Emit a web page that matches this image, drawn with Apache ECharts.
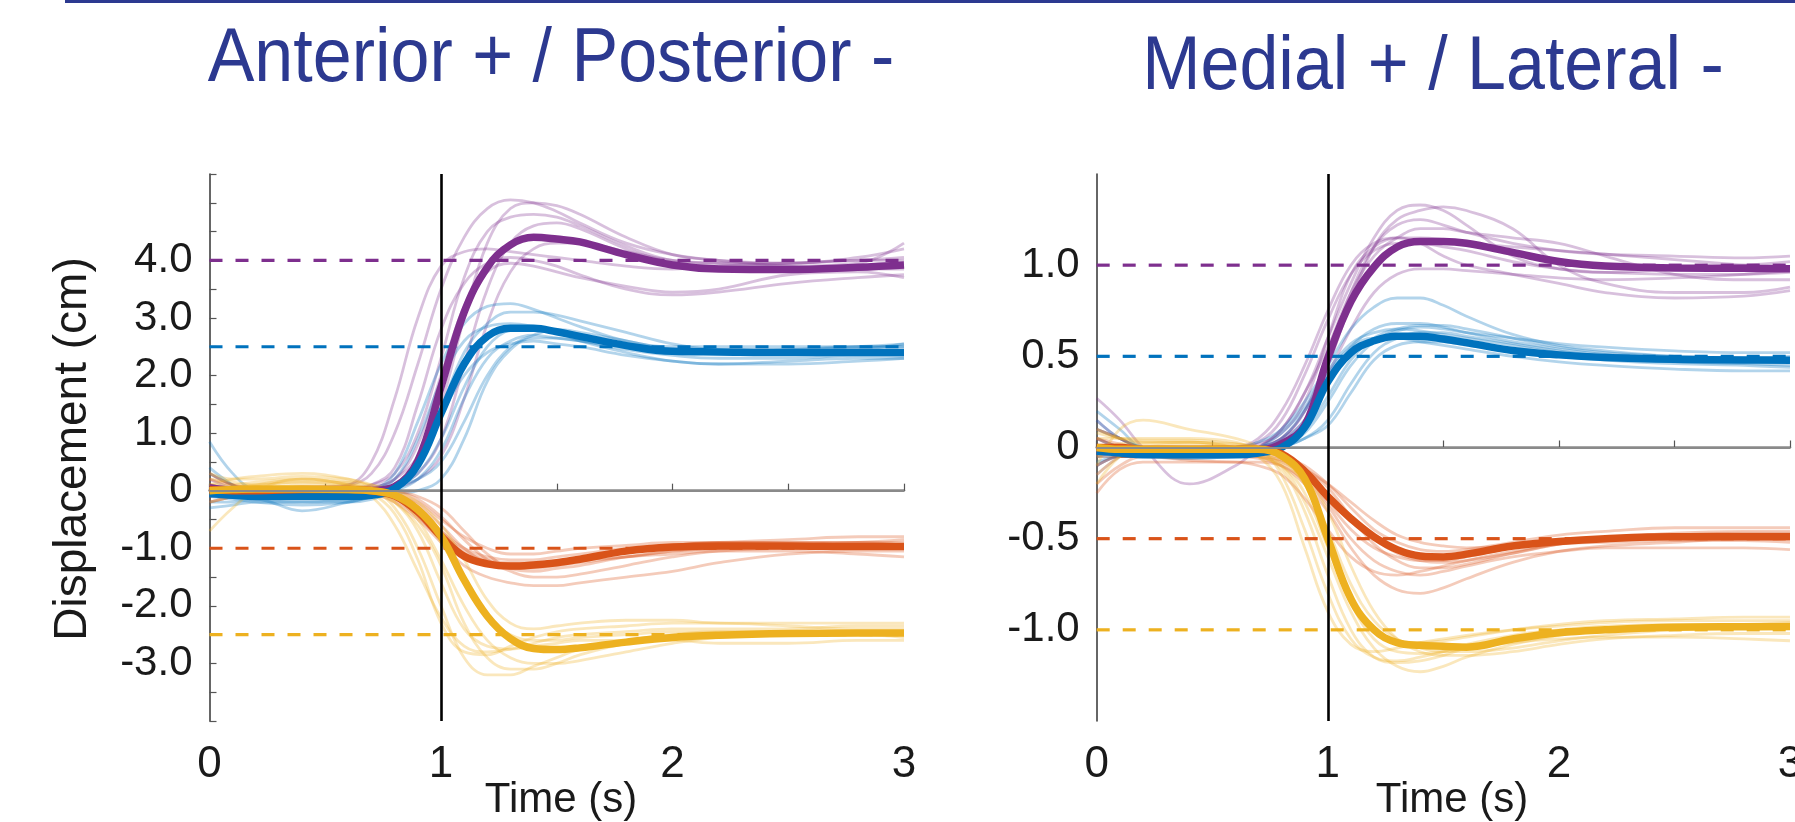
<!DOCTYPE html>
<html>
<head>
<meta charset="utf-8">
<title>Displacement traces</title>
<script src="https://cdn.jsdelivr.net/npm/echarts@6/dist/echarts.min.js"></script>
<style>
  html, body { margin: 0; padding: 0; background: #fff; }
  #chart { width: 1795px; height: 822px; }
</style>
</head>
<body>
<div id="chart"></div>
<script>
// sample times (s), shared by every trace
const T = [0, 0.1, 0.2, 0.4, 0.6, 0.7, 0.8, 0.9, 1.0, 1.1, 1.2, 1.3, 1.4, 1.5, 1.6, 1.8, 2.0, 2.2, 2.5, 2.8, 3.0]

// tick labels
const xTickValues = [0, 1, 2, 3]
const xTickLabels = ['0', '1', '2', '3']
const apTickValues = [4, 3, 2, 1, 0, -1, -2, -3]
const apTickLabels = ['4.0', '3.0', '2.0', '1.0', '0', '-1.0', '-2.0', '-3.0']
const mlTickValues = [1, 0.5, 0, -0.5, -1]
const mlTickLabels = ['1.0', '0.5', '0', '-0.5', '-1.0']

// target levels (dashed)
const apTargets = [4.0, 2.5, -1.0, -2.5]
const mlTargets = [1.0, 0.5, -0.5, -1.0]

// ---- Anterior / Posterior (cm) ----
const apPurpleMean = [0.05, 0.0, -0.02, -0.03, -0.02, 0.0, 0.07, 0.52, 1.8, 3.1, 3.88, 4.27, 4.4, 4.37, 4.32, 4.1, 3.92, 3.85, 3.84, 3.88, 3.92]
const apBlueMean = [-0.05, -0.08, -0.1, -0.1, -0.1, -0.08, 0.04, 0.45, 1.34, 2.2, 2.68, 2.82, 2.82, 2.76, 2.68, 2.52, 2.42, 2.41, 2.4, 2.4, 2.4]
const apRedMean = [0.02, 0.0, 0.0, 0.02, 0.02, 0.0, -0.09, -0.37, -0.79, -1.14, -1.27, -1.31, -1.29, -1.25, -1.19, -1.05, -0.98, -0.96, -0.96, -0.97, -0.97]
const apYellowMean = [0.0, 0.02, 0.03, 0.03, 0.02, 0.0, -0.08, -0.33, -0.79, -1.55, -2.18, -2.57, -2.74, -2.76, -2.73, -2.63, -2.55, -2.51, -2.48, -2.47, -2.47]

const apPurpleTrials = [
  [0.3, 0.1, 0.0, 0.0, 0.1, 0.5, 1.6, 3.0, 3.9, 4.15, 4.2, 4.15, 4.1, 4.05, 4.0, 3.9, 3.85, 3.9, 3.95, 4.0, 4.05],
  [0.0, -0.05, 0.0, 0.05, 0.1, 0.3, 1.0, 2.2, 3.5, 4.4, 4.9, 5.05, 5.0, 4.85, 4.65, 4.3, 4.1, 4.0, 3.95, 4.0, 4.0],
  [0.1, 0.0, -0.05, -0.05, 0.0, 0.05, 0.2, 0.6, 1.5, 3.0, 4.3, 4.9, 5.0, 4.95, 4.8, 4.4, 4.1, 4.0, 3.9, 3.85, 3.85],
  [-0.1, -0.1, -0.05, 0.0, 0.0, 0.1, 0.4, 1.5, 2.8, 3.6, 3.95, 4.05, 4.0, 3.9, 3.75, 3.5, 3.4, 3.45, 3.6, 3.7, 3.75],
  [0.2, 0.05, 0.0, 0.0, -0.05, 0.0, 0.1, 0.3, 0.9, 2.2, 3.5, 4.3, 4.6, 4.65, 4.55, 4.2, 3.95, 3.85, 3.85, 3.9, 3.95],
  [0.0, 0.0, 0.05, 0.05, 0.05, 0.1, 0.3, 1.0, 2.3, 3.7, 4.5, 4.75, 4.8, 4.75, 4.6, 4.25, 4.0, 3.95, 3.95, 4.05, 4.2],
  [-0.2, -0.1, 0.0, 0.0, 0.0, 0.05, 0.2, 0.8, 2.0, 3.2, 3.8, 3.95, 3.9, 3.8, 3.7, 3.55, 3.45, 3.5, 3.75, 3.8, 3.7],
  [0.05, 0.0, 0.0, -0.05, 0.0, 0.0, 0.05, 0.2, 0.6, 1.6, 2.9, 3.8, 4.2, 4.3, 4.3, 4.15, 4.0, 3.95, 3.9, 3.95, 4.3]
]
const apBlueTrials = [
  [0.85, 0.3, 0.0, -0.1, -0.1, 0.0, 0.3, 1.2, 2.2, 2.9, 3.2, 3.25, 3.15, 3.0, 2.85, 2.6, 2.5, 2.5, 2.5, 2.5, 2.5],
  [0.0, -0.1, -0.15, -0.2, -0.2, -0.15, 0.0, 0.4, 1.4, 2.4, 2.9, 3.1, 3.1, 3.05, 2.95, 2.75, 2.55, 2.45, 2.45, 2.5, 2.55],
  [-0.2, -0.2, -0.15, -0.35, -0.2, -0.1, 0.0, 0.2, 0.7, 1.6, 2.3, 2.6, 2.7, 2.65, 2.6, 2.45, 2.35, 2.3, 2.3, 2.35, 2.35],
  [0.3, 0.1, -0.05, -0.1, -0.05, 0.0, 0.1, 0.5, 1.3, 2.0, 2.4, 2.55, 2.6, 2.55, 2.5, 2.35, 2.25, 2.2, 2.2, 2.25, 2.3],
  [-0.3, -0.25, -0.2, -0.2, -0.15, -0.1, -0.05, 0.0, 0.2, 0.9, 1.9, 2.45, 2.65, 2.65, 2.6, 2.5, 2.45, 2.4, 2.4, 2.4, 2.4],
  [0.1, 0.0, -0.05, -0.1, -0.1, 0.0, 0.2, 0.9, 1.9, 2.6, 2.85, 2.9, 2.85, 2.75, 2.65, 2.5, 2.4, 2.4, 2.45, 2.5, 2.5],
  [-0.1, -0.15, -0.2, -0.25, -0.2, -0.1, 0.05, 0.3, 0.9, 1.8, 2.5, 2.8, 2.85, 2.75, 2.6, 2.4, 2.25, 2.2, 2.25, 2.3, 2.3],
  [0.4, 0.1, -0.1, -0.1, -0.05, 0.0, 0.1, 0.2, 0.5, 1.2, 2.0, 2.5, 2.7, 2.8, 2.75, 2.6, 2.45, 2.4, 2.4, 2.45, 2.55]
]
const apRedTrials = [
  [0.2, 0.1, 0.05, 0.05, 0.05, 0.0, -0.1, -0.35, -0.7, -1.0, -1.15, -1.2, -1.2, -1.15, -1.1, -1.0, -0.95, -0.9, -0.85, -0.8, -0.8],
  [0.0, 0.0, 0.05, 0.05, 0.05, 0.05, 0.0, -0.15, -0.45, -0.85, -1.2, -1.4, -1.5, -1.5, -1.45, -1.3, -1.15, -1.05, -1.0, -1.0, -1.0],
  [-0.1, 0.0, 0.0, 0.0, 0.0, -0.05, -0.2, -0.5, -0.9, -1.3, -1.5, -1.6, -1.65, -1.65, -1.6, -1.5, -1.4, -1.25, -1.1, -1.05, -1.05],
  [0.3, 0.1, 0.05, 0.0, 0.0, 0.0, -0.05, -0.2, -0.5, -0.8, -1.0, -1.1, -1.1, -1.05, -1.0, -0.95, -0.9, -0.9, -0.9, -0.9, -0.9],
  [0.1, 0.05, 0.0, 0.0, 0.05, 0.05, 0.0, -0.1, -0.3, -0.7, -1.1, -1.35, -1.4, -1.35, -1.3, -1.15, -1.05, -1.0, -0.95, -0.95, -0.95],
  [-0.2, -0.1, 0.0, 0.05, 0.05, 0.0, -0.15, -0.45, -0.85, -1.15, -1.3, -1.35, -1.35, -1.3, -1.25, -1.15, -1.1, -1.05, -1.05, -1.1, -1.15],
  [0.0, 0.0, 0.0, 0.0, 0.0, 0.0, -0.05, -0.25, -0.6, -1.0, -1.25, -1.3, -1.3, -1.25, -1.2, -1.05, -0.95, -0.9, -0.9, -0.9, -0.95],
  [0.1, 0.0, 0.0, 0.0, 0.0, -0.05, -0.1, -0.3, -0.7, -1.05, -1.2, -1.25, -1.25, -1.25, -1.2, -1.15, -1.05, -1.0, -0.95, -0.9, -0.85]
]
const apYellowTrials = [
  [-0.7, -0.3, 0.0, 0.2, 0.1, -0.1, -0.6, -1.4, -2.2, -2.7, -2.8, -2.75, -2.65, -2.55, -2.5, -2.45, -2.4, -2.4, -2.4, -2.35, -2.35],
  [0.1, 0.2, 0.25, 0.3, 0.2, 0.05, -0.3, -1.0, -2.0, -2.9, -3.2, -3.2, -3.05, -2.9, -2.75, -2.6, -2.5, -2.45, -2.45, -2.45, -2.45],
  [0.0, 0.05, 0.1, 0.2, 0.15, 0.0, -0.2, -0.6, -1.3, -2.3, -2.9, -3.1, -3.1, -3.0, -2.85, -2.65, -2.55, -2.5, -2.5, -2.5, -2.5],
  [0.2, 0.15, 0.1, 0.15, 0.1, 0.05, -0.1, -0.4, -0.9, -1.6, -2.2, -2.5, -2.6, -2.6, -2.55, -2.5, -2.45, -2.45, -2.45, -2.5, -2.5],
  [-0.2, -0.1, 0.0, 0.1, 0.1, 0.0, -0.2, -0.7, -1.6, -2.4, -2.7, -2.75, -2.7, -2.65, -2.6, -2.6, -2.6, -2.65, -2.65, -2.6, -2.6],
  [0.0, 0.05, 0.1, 0.15, 0.15, 0.1, 0.0, -0.2, -0.6, -1.2, -1.9, -2.3, -2.4, -2.35, -2.3, -2.25, -2.25, -2.3, -2.3, -2.3, -2.3],
  [0.3, 0.2, 0.2, 0.25, 0.2, 0.1, -0.1, -0.5, -1.2, -2.0, -2.6, -2.9, -3.0, -3.0, -2.95, -2.8, -2.65, -2.55, -2.5, -2.5, -2.55],
  [0.1, 0.1, 0.15, 0.2, 0.1, -0.05, -0.4, -1.2, -2.3, -2.8, -2.85, -2.7, -2.55, -2.45, -2.4, -2.35, -2.3, -2.3, -2.35, -2.4, -2.4]
]

// ---- Medial / Lateral (cm) ----
const mlPurpleMean = [-0.02, -0.02, -0.03, -0.03, -0.03, -0.02, 0.02, 0.12, 0.49, 0.8, 0.99, 1.1, 1.13, 1.13, 1.12, 1.07, 1.02, 0.995, 0.985, 0.983, 0.98]
const mlBlueMean = [-0.02, -0.03, -0.04, -0.04, -0.04, -0.03, 0.0, 0.11, 0.36, 0.52, 0.585, 0.61, 0.61, 0.595, 0.575, 0.532, 0.508, 0.494, 0.484, 0.48, 0.478]
const mlRedMean = [0.0, 0.0, -0.01, -0.01, -0.01, -0.01, -0.035, -0.13, -0.27, -0.39, -0.49, -0.56, -0.595, -0.6, -0.585, -0.54, -0.515, -0.5, -0.49, -0.49, -0.49]
const mlYellowMean = [0.0, -0.01, -0.01, -0.01, -0.01, -0.01, -0.045, -0.17, -0.5, -0.83, -1.0, -1.07, -1.085, -1.09, -1.095, -1.05, -1.016, -1.0, -0.986, -0.983, -0.982]

const mlPurpleTrials = [
  [0.27, 0.15, 0.0, -0.2, -0.1, 0.0, 0.1, 0.3, 0.6, 0.9, 1.15, 1.3, 1.33, 1.3, 1.22, 1.05, 0.98, 0.96, 0.98, 1.0, 1.02],
  [0.0, 0.0, -0.02, -0.03, 0.0, 0.05, 0.2, 0.45, 0.75, 1.0, 1.12, 1.15, 1.15, 1.14, 1.12, 1.1, 1.08, 1.06, 1.03, 1.0, 0.98],
  [-0.1, -0.05, -0.05, -0.05, -0.05, 0.0, 0.05, 0.2, 0.45, 0.8, 1.1, 1.25, 1.3, 1.32, 1.3, 1.2, 1.0, 0.9, 0.85, 0.85, 0.88],
  [0.1, 0.05, 0.0, 0.0, 0.0, 0.0, 0.05, 0.15, 0.4, 0.65, 0.85, 0.95, 0.98, 0.98, 0.97, 0.95, 0.93, 0.92, 0.93, 0.95, 0.97],
  [0.05, 0.0, -0.03, -0.05, -0.03, 0.0, 0.1, 0.3, 0.55, 0.85, 1.05, 1.15, 1.2, 1.2, 1.18, 1.15, 1.12, 1.05, 0.95, 0.92, 0.92],
  [-0.15, -0.05, 0.0, 0.0, 0.0, 0.02, 0.08, 0.25, 0.6, 0.95, 1.1, 1.15, 1.12, 1.05, 1.0, 0.95, 0.9, 0.85, 0.82, 0.83, 0.86],
  [0.15, 0.05, 0.0, -0.02, 0.0, 0.03, 0.15, 0.4, 0.7, 0.95, 1.08, 1.12, 1.12, 1.1, 1.08, 1.02, 0.98, 0.96, 0.95, 0.95, 0.96],
  [-0.05, -0.03, -0.03, -0.03, -0.02, 0.0, 0.05, 0.2, 0.5, 0.85, 1.1, 1.22, 1.25, 1.22, 1.18, 1.12, 1.08, 1.06, 1.05, 1.04, 1.05]
]
const mlBlueTrials = [
  [0.2, 0.1, 0.0, -0.02, 0.0, 0.03, 0.1, 0.25, 0.45, 0.65, 0.77, 0.82, 0.82, 0.78, 0.72, 0.62, 0.56, 0.53, 0.5, 0.49, 0.48],
  [0.05, 0.0, -0.03, -0.05, -0.05, -0.03, 0.03, 0.15, 0.35, 0.55, 0.65, 0.68, 0.68, 0.66, 0.63, 0.58, 0.54, 0.51, 0.49, 0.48, 0.47],
  [-0.1, -0.05, -0.05, -0.05, -0.05, -0.03, 0.0, 0.05, 0.15, 0.35, 0.52, 0.6, 0.63, 0.63, 0.61, 0.57, 0.53, 0.5, 0.47, 0.46, 0.45],
  [0.1, 0.05, 0.0, -0.02, -0.02, 0.0, 0.05, 0.2, 0.4, 0.55, 0.6, 0.6, 0.58, 0.56, 0.54, 0.5, 0.47, 0.45, 0.43, 0.42, 0.42],
  [-0.05, -0.05, -0.05, -0.06, -0.05, -0.03, 0.0, 0.08, 0.25, 0.45, 0.58, 0.64, 0.66, 0.65, 0.63, 0.6, 0.57, 0.55, 0.53, 0.52, 0.52],
  [0.15, 0.05, 0.0, -0.03, -0.03, 0.0, 0.08, 0.22, 0.42, 0.57, 0.63, 0.65, 0.64, 0.62, 0.6, 0.56, 0.52, 0.5, 0.48, 0.47, 0.47],
  [0.0, -0.02, -0.04, -0.06, -0.05, -0.03, 0.02, 0.1, 0.28, 0.48, 0.6, 0.65, 0.67, 0.67, 0.65, 0.6, 0.55, 0.52, 0.5, 0.49, 0.5],
  [-0.08, -0.05, -0.05, -0.05, -0.04, -0.02, 0.0, 0.05, 0.12, 0.3, 0.48, 0.56, 0.58, 0.58, 0.56, 0.53, 0.5, 0.48, 0.46, 0.45, 0.44]
]
const mlRedTrials = [
  [0.1, 0.05, 0.0, 0.0, 0.0, -0.02, -0.05, -0.15, -0.3, -0.45, -0.55, -0.6, -0.62, -0.62, -0.6, -0.55, -0.52, -0.5, -0.48, -0.47, -0.47],
  [-0.2, -0.1, -0.05, -0.05, -0.05, -0.06, -0.1, -0.2, -0.35, -0.55, -0.7, -0.78, -0.8, -0.77, -0.72, -0.63, -0.57, -0.54, -0.52, -0.5, -0.5],
  [0.05, 0.0, -0.02, -0.03, -0.03, -0.05, -0.08, -0.15, -0.25, -0.38, -0.5, -0.58, -0.62, -0.63, -0.62, -0.58, -0.53, -0.5, -0.47, -0.46, -0.46],
  [-0.1, -0.05, -0.05, -0.07, -0.08, -0.08, -0.1, -0.18, -0.32, -0.5, -0.62, -0.68, -0.7, -0.68, -0.65, -0.6, -0.57, -0.55, -0.55, -0.55, -0.56],
  [0.0, -0.02, -0.03, -0.03, -0.02, -0.02, -0.04, -0.1, -0.2, -0.33, -0.45, -0.52, -0.56, -0.57, -0.56, -0.52, -0.48, -0.46, -0.44, -0.44, -0.44],
  [-0.25, -0.12, -0.08, -0.08, -0.08, -0.1, -0.15, -0.28, -0.45, -0.6, -0.68, -0.7, -0.68, -0.65, -0.62, -0.57, -0.53, -0.52, -0.51, -0.51, -0.52],
  [0.05, 0.02, 0.0, -0.01, -0.02, -0.03, -0.06, -0.12, -0.22, -0.38, -0.53, -0.62, -0.66, -0.66, -0.64, -0.58, -0.53, -0.5, -0.48, -0.48, -0.49],
  [-0.05, -0.05, -0.05, -0.05, -0.05, -0.05, -0.07, -0.12, -0.2, -0.3, -0.4, -0.48, -0.52, -0.54, -0.55, -0.54, -0.52, -0.5, -0.49, -0.48, -0.48]
]
const mlYellowTrials = [
  [-0.1, 0.1, 0.15, 0.1, 0.05, 0.0, -0.15, -0.45, -0.8, -1.05, -1.15, -1.17, -1.15, -1.12, -1.08, -1.03, -1.0, -0.98, -0.97, -0.97, -0.97],
  [0.05, 0.05, 0.05, 0.05, 0.03, -0.02, -0.1, -0.3, -0.6, -0.9, -1.1, -1.2, -1.23, -1.2, -1.15, -1.08, -1.03, -1.0, -0.98, -0.97, -0.96],
  [-0.2, -0.05, 0.0, 0.02, 0.0, -0.03, -0.08, -0.2, -0.45, -0.75, -0.95, -1.05, -1.1, -1.12, -1.12, -1.1, -1.06, -1.03, -1.0, -0.99, -0.99],
  [0.1, 0.05, 0.03, 0.03, 0.0, -0.05, -0.2, -0.55, -0.9, -1.08, -1.12, -1.1, -1.07, -1.05, -1.03, -1.0, -0.98, -0.96, -0.95, -0.95, -0.95],
  [-0.05, 0.0, 0.02, 0.03, 0.02, 0.0, -0.05, -0.15, -0.35, -0.65, -0.9, -1.05, -1.12, -1.14, -1.14, -1.12, -1.08, -1.05, -1.03, -1.02, -1.02],
  [0.0, 0.02, 0.03, 0.03, 0.0, -0.04, -0.12, -0.35, -0.7, -1.0, -1.15, -1.18, -1.17, -1.14, -1.1, -1.05, -1.02, -1.0, -0.98, -0.98, -0.99],
  [-0.15, -0.05, 0.0, 0.0, -0.02, -0.05, -0.1, -0.25, -0.55, -0.85, -1.05, -1.12, -1.13, -1.12, -1.1, -1.07, -1.05, -1.04, -1.04, -1.05, -1.06],
  [0.08, 0.05, 0.04, 0.04, 0.02, 0.0, -0.06, -0.2, -0.5, -0.82, -1.0, -1.06, -1.07, -1.06, -1.04, -1.0, -0.97, -0.95, -0.94, -0.93, -0.93]
]

// MATLAB default palette: purple, blue, red-orange, yellow
const colors = ['#7E2F8E', '#0072BD', '#D95319', '#EDB120']
const navy = '#2C3990'

function pairs (vals) {
  return T.map((t, i) => [t, vals[i]])
}

function pickLabel (values, labels) {
  return function (v) {
    for (let i = 0; i < values.length; i++) {
      if (Math.abs(values[i] - v) < 1e-9) return labels[i]
    }
    return ''
  }
}

function panelSeries (idx, trials, means, targets) {
  const out = []
  trials.forEach((group, c) => {
    group.forEach(tr => {
      out.push({
        type: 'line', xAxisIndex: idx, yAxisIndex: idx, z: 1,
        data: pairs(tr), showSymbol: false, smooth: 0.4,
        lineStyle: { color: colors[c], width: 2.8, opacity: 0.3 }
      })
    })
  })
  targets.forEach((v, c) => {
    out.push({
      type: 'line', xAxisIndex: idx, yAxisIndex: idx, z: 2,
      data: [[0, v], [3, v]], showSymbol: false,
      lineStyle: { color: colors[c], width: 3.2, type: [13, 13] }
    })
  })
  means.forEach((m, c) => {
    out.push({
      type: 'line', xAxisIndex: idx, yAxisIndex: idx, z: 3,
      data: pairs(m), showSymbol: false, smooth: 0.4,
      lineStyle: { color: colors[c], width: 7.5 }
    })
  })
  // stimulus onset and zero reference
  out.push({
    type: 'line', xAxisIndex: idx, yAxisIndex: idx, z: 4, data: [],
    markLine: {
      symbol: 'none', silent: true, animation: false, label: { show: false },
      data: [
        { yAxis: 0, lineStyle: { color: '#8a8a8a', width: 2, type: 'solid' } },
        { xAxis: 1, lineStyle: { color: '#000', width: 2.6, type: 'solid' } }
      ]
    }
  })
  return out
}

function xAxisOf (idx) {
  return {
    type: 'value', gridIndex: idx, min: 0, max: 3, interval: 0.5,
    axisLine: { lineStyle: { color: '#8c8c8c', width: 2.5 } },
    axisTick: { inside: true, length: 7, lineStyle: { color: '#555', width: 1.2 } },
    axisLabel: {
      margin: 22, fontFamily: 'Liberation Sans', fontSize: 44, color: '#1a1a1a',
      formatter: pickLabel(xTickValues, xTickLabels)
    },
    splitLine: { show: false }
  }
}

function textAt (x, y, text, size, color, extra) {
  return Object.assign({
    type: 'text', x: x, y: y, silent: true,
    style: { text: text, fill: color, font: size + 'px "Liberation Sans"', textAlign: 'center', textVerticalAlign: 'middle' }
  }, extra || {})
}

const chart = echarts.init(document.getElementById('chart'))
chart.setOption({
  animation: false,
  backgroundColor: '#fff',
  grid: [
    { left: 209.5, top: 174, width: 694.5, height: 547, containLabel: false, outerBoundsMode: 'none' },
    { left: 1096.7, top: 174, width: 693.3, height: 547, containLabel: false, outerBoundsMode: 'none' }
  ],
  xAxis: [xAxisOf(0), xAxisOf(1)],
  yAxis: [
    {
      type: 'value', gridIndex: 0, min: -4, max: 5.5, interval: 0.5,
      axisLine: { show: true, lineStyle: { color: '#333', width: 1.5 } },
      axisTick: { show: true, inside: true, length: 7, lineStyle: { color: '#555', width: 1.2 } },
      axisLabel: {
        margin: 17, fontFamily: 'Liberation Sans', fontSize: 42, color: '#1a1a1a',
        formatter: pickLabel(apTickValues, apTickLabels)
      },
      splitLine: { show: false }
    },
    {
      type: 'value', gridIndex: 1, min: -1.5, max: 1.5, interval: 0.5,
      axisLine: { show: true, lineStyle: { color: '#333', width: 1.5 } },
      axisTick: { show: false },
      axisLabel: {
        margin: 17, fontFamily: 'Liberation Sans', fontSize: 42, color: '#1a1a1a',
        formatter: pickLabel(mlTickValues, mlTickLabels)
      },
      splitLine: { show: false }
    }
  ],
  graphic: [
    { type: 'line', silent: true, shape: { x1: 65, y1: 1.5, x2: 1795, y2: 1.5 }, style: { stroke: navy, lineWidth: 3 } },
    textAt(551, 60, 'Anterior + / Posterior -', 70, navy, { scaleY: 1.08 }),
    textAt(1433, 68, 'Medial + / Lateral -', 70, navy, { scaleY: 1.08 }),
    textAt(73, 449, 'Displacement (cm)', 46, '#1a1a1a', { rotation: Math.PI / 2 }),
    textAt(561, 800, 'Time (s)', 42, '#1a1a1a'),
    textAt(1452, 800, 'Time (s)', 42, '#1a1a1a')
  ],
  series: [].concat(
    panelSeries(0, [apPurpleTrials, apBlueTrials, apRedTrials, apYellowTrials],
      [apPurpleMean, apBlueMean, apRedMean, apYellowMean], apTargets),
    panelSeries(1, [mlPurpleTrials, mlBlueTrials, mlRedTrials, mlYellowTrials],
      [mlPurpleMean, mlBlueMean, mlRedMean, mlYellowMean], mlTargets)
  )
})
</script>
</body>
</html>
